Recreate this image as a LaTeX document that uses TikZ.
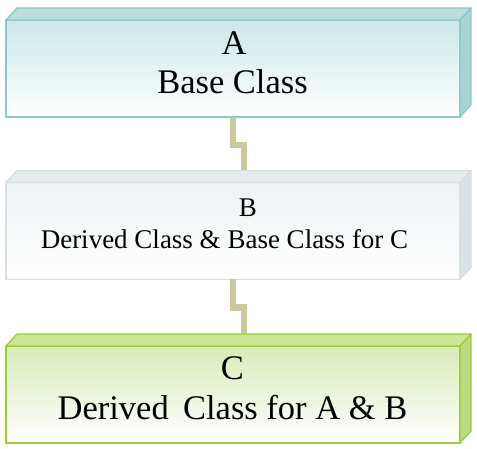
\documentclass[tikz,border=0pt]{standalone}
\usepackage{fontspec}
\setmainfont{Liberation Serif}
\usetikzlibrary{calc}
\definecolor{aborder}{HTML}{8CCACA}
\definecolor{atop}{HTML}{BADEDE}
\definecolor{aside}{HTML}{A6D4D4}
\definecolor{afront}{HTML}{CBE8E8}
\definecolor{bborder}{HTML}{D6DEE1}
\definecolor{btop}{HTML}{E6ECEE}
\definecolor{bside}{HTML}{DAE2E5}
\definecolor{bfront}{HTML}{EEF2F4}
\definecolor{cborder}{HTML}{9CCC3C}
\definecolor{ctop}{HTML}{CDE597}
\definecolor{cside}{HTML}{BEDA80}
\definecolor{cfront}{HTML}{D8EBB8}
\definecolor{link}{HTML}{C9C99B}
\tikzset{
  frontbox/.style={draw=#1border, top color=#1front, bottom color=white,
    line width=1.3pt, minimum width=454pt, minimum height=97pt,
    inner sep=0pt, outer sep=0pt},
  topface/.style={draw=#1border, fill=#1top, line width=1.3pt, line join=round},
  sideface/.style={draw=#1border, fill=#1side, line width=1.3pt, line join=round},
  linkline/.style={draw=link, line width=6.5pt, line cap=butt},
  bigtext/.style={font=\fontsize{34.5}{40}\selectfont, inner sep=0pt, anchor=base},
  midtext/.style={font=\fontsize{27}{32}\selectfont, inner sep=0pt, anchor=base}
}
\begin{document}
\begin{tikzpicture}[x=1pt,y=-1pt]
\useasboundingbox (0,0) rectangle (477,449);
% boxes (front faces)
\node[frontbox=a] (A) at (233,68.5) {};
\node[frontbox=b] (B) at (233,231) {};
\node[frontbox=c] (C) at (233,394.5) {};
% connector targets on the back top edge
\coordinate (Bt) at ($(B.north)+(11,-12)$);
\coordinate (Ct) at ($(C.north)+(11,-12)$);
% connectors
\draw[linkline] (A.south) -- ++(0,28) -| (Bt);
\draw[linkline] (B.south) -- ++(0,28) -| (Ct);
% 3D faces
\foreach \n/\c in {A/a,B/b,C/c}{
  \draw[topface=\c] (\n.north west) -- ++(11,-12) -- ($(\n.north east)+(11,-12)$) -- (\n.north east) -- cycle;
  \draw[sideface=\c] (\n.north east) -- ++(11,-12) -- ($(\n.south east)+(11,-12)$) -- (\n.south east) -- cycle;
}
% texts
\node[bigtext] (Atitle) at (234,55) {A};
\node[bigtext] (Asub) at (232.5,94) {Base Class};
\node[midtext] (Btitle) at (248,217) {B};
\node[midtext] (Bsub) at (224.5,249) {Derived Class \& Base Class for C};
\node[bigtext] (Ctitle) at (232.5,379) {C};
\node[bigtext] (Csub) at (232.5,419) {Derived\, Class for A \& B};
\end{tikzpicture}
\end{document}
